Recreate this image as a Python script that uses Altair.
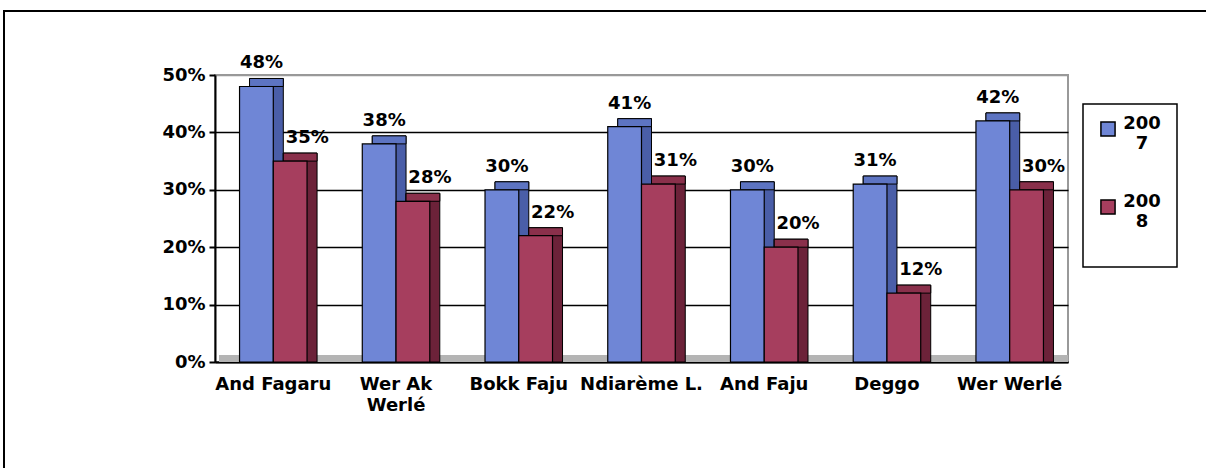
import altair as alt
import pandas as pd

categories = ["And Fagaru", "Wer Ak Werlé", "Bokk Faju", "Ndiarème L.", "And Faju", "Deggo", "Wer Werlé"]
years = ["2007", "2008"]
v2007 = [48, 38, 30, 41, 30, 31, 42]
v2008 = [35, 28, 22, 31, 20, 12, 30]
y_ticks = [0, 10, 20, 30, 40, 50]

front_colors = ["#6f86d6", "#a63e5e"]
side_colors = ["#4a5ea8", "#6c2239"]
top_colors = ["#5d74c2", "#8a304b"]

rows = []
for c, a, b in zip(categories, v2007, v2008):
    rows.append({"cat": c, "year": years[0], "val": a})
    rows.append({"cat": c, "year": years[1], "val": b})
df = pd.DataFrame(rows)

W, H = 853, 287
FONT = "DejaVu Sans"
P_IN, P_OUT = 0.45, 0.2
BW = (1 - P_IN) * W / (len(categories) - P_IN + 2 * P_OUT)
DX, DY = 10, 8

x_enc = alt.X("cat:N", sort=categories,
              scale=alt.Scale(paddingInner=P_IN, paddingOuter=P_OUT),
              axis=alt.Axis(title=None, ticks=False, labelAngle=0, labelFont=FONT,
                            labelFontSize=18, labelFontWeight="bold", labelColor="black",
                            labelPadding=13, labelLineHeight=21, domain=True,
                            domainColor="black", domainWidth=2,
                            labelExpr="datum.label == 'Wer Ak Werlé' ? ['Wer Ak', 'Werlé'] : datum.label"))


def xo(a, b):
    return alt.XOffset("year:N", sort=years,
                       scale=alt.Scale(paddingInner=0, paddingOuter=0, range=[a, b]))


y_scale = alt.Scale(domain=[0, 50], nice=False)
y_axis = alt.Axis(title=None, values=y_ticks, labelExpr="datum.value + '%'",
                  labelFont=FONT, labelFontSize=18, labelFontWeight="bold",
                  labelColor="black", tickSize=6, tickColor="black", tickWidth=2,
                  domainColor="black", domainWidth=2, labelPadding=4,
                  grid=True, gridWidth=1.5,
                  gridColor={"condition": {"test": "datum.value == 50", "value": "#999999"},
                             "value": "black"})
y_enc = alt.Y("val:Q", scale=y_scale, axis=y_axis)

base = alt.Chart(df)

side = base.mark_bar(yOffset=-DY, stroke="black", strokeWidth=1).encode(
    x=x_enc, xOffset=xo(DX, BW + DX), y=y_enc, y2=alt.datum(0),
    color=alt.Color("year:N", scale=alt.Scale(domain=years, range=side_colors), legend=None),
)
top = base.mark_bar(yOffset=-DY, y2Offset=0, stroke="black", strokeWidth=1).encode(
    x=x_enc, xOffset=xo(DX, BW + DX), y=y_enc, y2="val:Q",
    color=alt.Color("year:N", scale=alt.Scale(domain=years, range=top_colors), legend=None),
)
front = base.mark_bar(stroke="black", strokeWidth=1.2).encode(
    x=x_enc, xOffset=xo(0, BW), y=y_enc,
    color=alt.Color("year:N", scale=alt.Scale(domain=years, range=front_colors),
                    legend=alt.Legend(title=None, orient="none", legendX=868, legendY=29,
                                      symbolType="square", symbolSize=200,
                                      symbolStrokeColor="black", symbolStrokeWidth=1.5,
                                      labelFont=FONT, labelFontSize=18, labelFontWeight="bold",
                                      labelColor="black",
                                      labelBaseline="alphabetic", labelAlign="center",
                                      labelExpr="[substring(datum.label,0,3), substring(datum.label,3), '']",
                                      rowPadding=20, padding=16, strokeColor="black",
                                      fillColor="white", labelOffset=25)),
)
labels = base.transform_calculate(txt="datum.val + '%'").mark_text(
    font=FONT, fontSize=18, fontWeight="bold", baseline="alphabetic", dy=-18, color="black"
).encode(
    x=x_enc, xOffset=xo(BW / 4 + 5, 3 * BW / 4 + 17), y=y_enc,
    text="txt:N",
)

floor = alt.Chart(pd.DataFrame({"k": [0]})).mark_rect(color="#b4b4b4").encode(
    x=alt.value(4), x2=alt.value(W), y=alt.value(H - 7), y2=alt.value(H)
)
frame = alt.Chart(pd.DataFrame({"k": [0]})).mark_rect(
    fill=None, stroke="black", strokeWidth=2, filled=False
).encode(
    x=alt.value(-211), x2=alt.value(1010), y=alt.value(-64), y2=alt.value(400)
)

chart = alt.layer(frame, floor, side, top, front, labels).resolve_scale(
    color="independent", xOffset="independent"
).properties(
    width=W, height=H,
    padding={"left": 215, "top": 75, "right": 1206 - 215 - W, "bottom": 468 - 75 - H},
    autosize=alt.AutoSizeParams(type="none"),
    background="white",
).configure_view(stroke="#999999", strokeWidth=2).configure_legend(strokeWidth=1.5)

chart.save("out.html", embed_options={"renderer": "svg", "actions": False})
